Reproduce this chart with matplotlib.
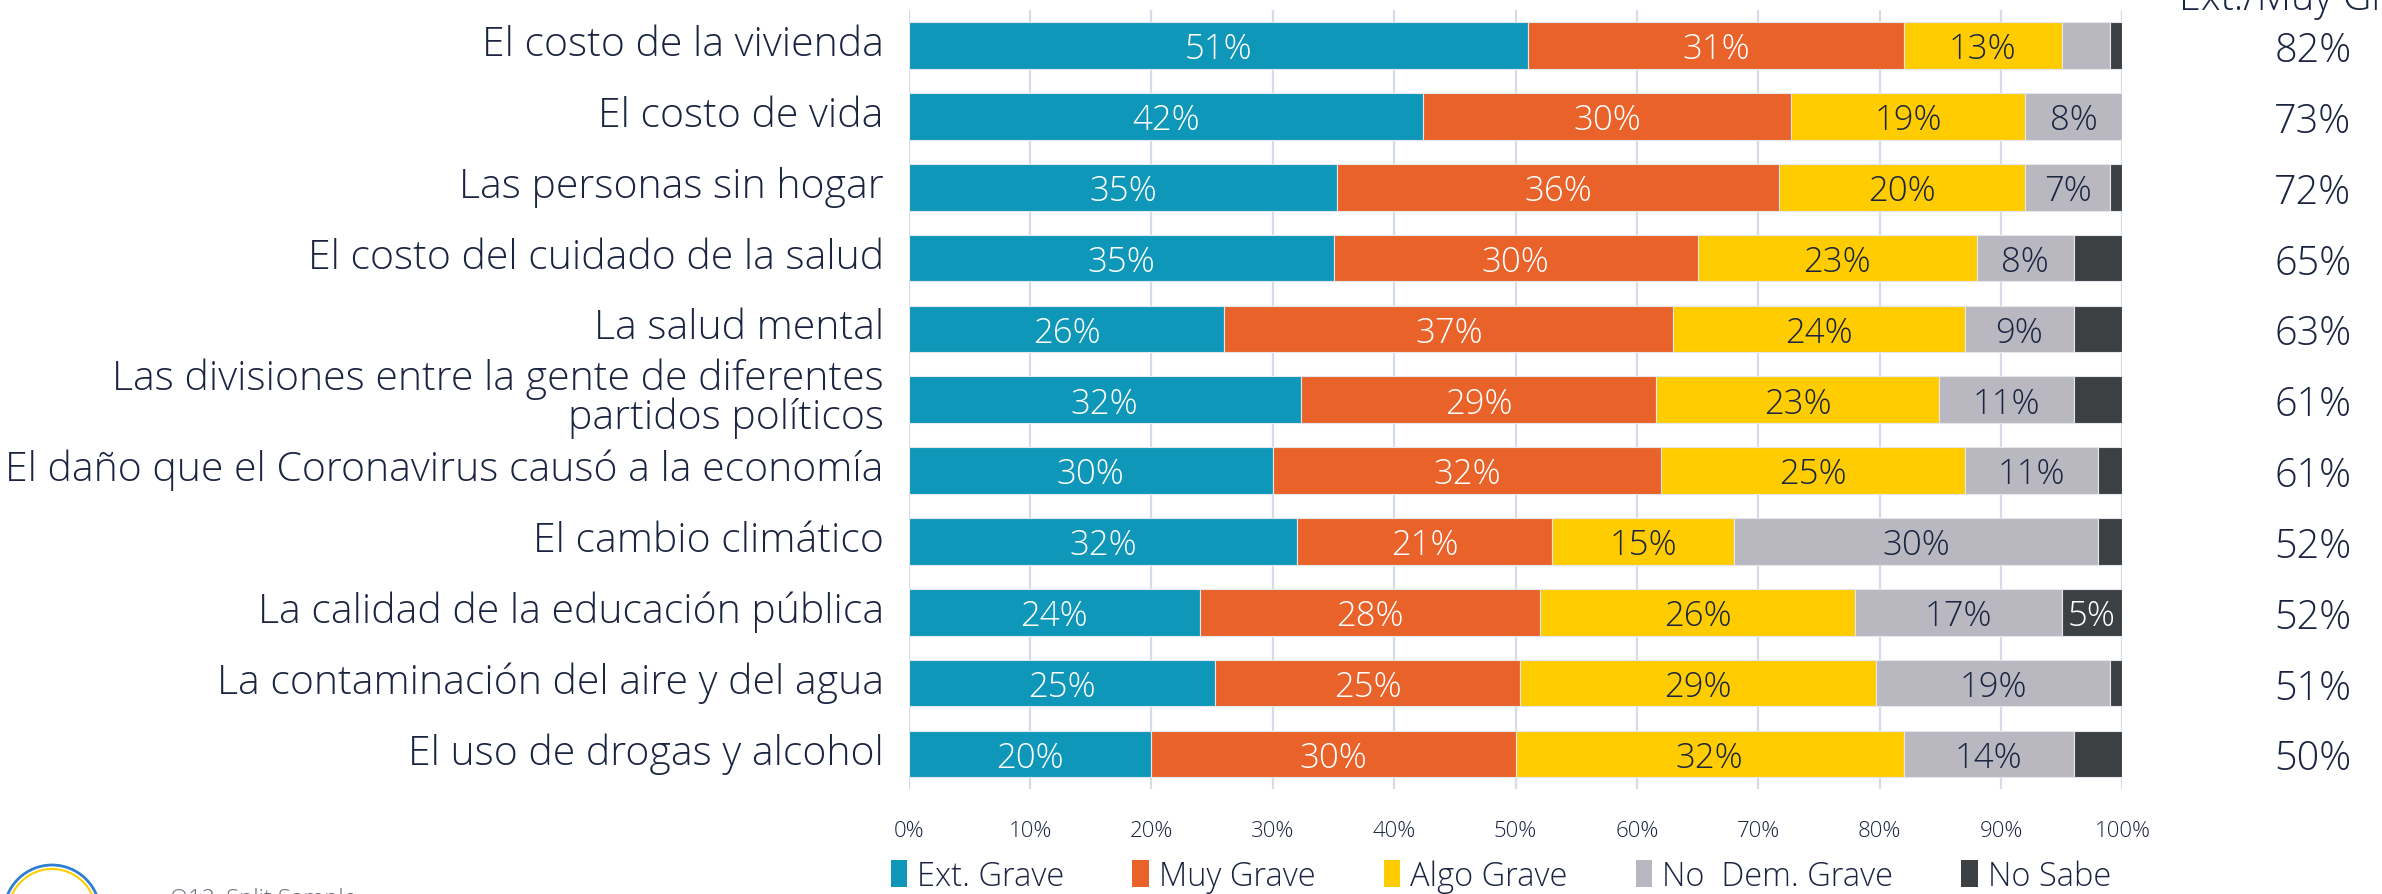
import matplotlib
matplotlib.use("Agg")
import matplotlib.pyplot as plt
import matplotlib.transforms as mtransforms
import numpy as np
from matplotlib.patches import Circle, Wedge, Patch

plt.rcParams['font.family'] = ['Open Sans', 'DejaVu Sans']

categories = [
    "El costo de la vivienda",
    "El costo de vida",
    "Las personas sin hogar",
    "El costo del cuidado de la salud",
    "La salud mental",
    "Las divisiones entre la gente de diferentes\npartidos políticos",
    "El daño que el Coronavirus causó a la economía",
    "El cambio climático",
    "La calidad de la educación pública",
    "La contaminación del aire y del agua",
    "El uso de drogas y alcohol",
]

ext_grave = [51, 42.4, 35.3, 35, 26, 32.3, 30, 32, 24, 25.2, 20]
muy_grave = [31, 30.3, 36.4, 30, 37, 29.3, 32, 21, 28, 25.2, 30]
algo_grave = [13, 19.3, 20.3, 23, 24, 23.3, 25, 15, 26, 29.3, 32]
no_dem_grave = [4, 8, 7, 8, 9, 11.1, 11, 30, 17, 19.3, 14]
no_sabe = [1, 0, 1, 4, 4, 4, 2, 2, 5, 1, 4]

net_labels = ["82%", "73%", "72%", "65%", "63%", "61%", "61%", "52%", "52%", "51%", "50%"]

series = ["Ext. Grave", "Muy Grave", "Algo Grave", "No  Dem. Grave", "No Sabe"]
colors = ["#0E97B8", "#E8622A", "#FFCC00", "#B9B8C1", "#3C4043"]
text_colors = ["white", "white", "#1B2541", "#1B2541", "white"]
min_label = [3, 3, 3, 6, 5]

navy = "#1B2541"
weight = "light"

fig = plt.figure(figsize=(23.82, 8.95), dpi=100)
ax = fig.add_axes([0.3815, 0.1169, 0.5095, 0.8707])

data = [ext_grave, muy_grave, algo_grave, no_dem_grave, no_sabe]
y = np.arange(len(categories))
left = np.zeros(len(categories))
for vals, col, tc, ml in zip(data, colors, text_colors, min_label):
    vals = np.array(vals, dtype=float)
    ax.barh(y, vals, left=left, height=0.66, color=col, edgecolor="#E4E7EE",
            linewidth=0.8, zorder=3)
    for yi, (l, v) in enumerate(zip(left, vals)):
        if v >= ml:
            ax.text(l + v / 2, yi + 0.05, f"{round(v)}%", ha="center", va="center",
                    color=tc, fontsize=25, fontweight=weight, zorder=4)
    left += vals

ax.set_xlim(0, 100)
ax.set_ylim(len(categories) - 0.5, -0.5)
ax.set_xticks(np.arange(0, 101, 10))
ax.set_xticklabels([f"{t}%" for t in range(0, 101, 10)], fontsize=16,
                   color=navy, fontweight=weight)
ax.set_yticks(y)
ax.set_yticklabels(categories, fontsize=29.5, color=navy, fontweight=weight,
                   linespacing=0.92)
ax.tick_params(axis="both", length=0)
ax.tick_params(axis="y", pad=18)
ax.tick_params(axis="x", pad=22)
shift = mtransforms.ScaledTranslation(0, 6 / 100, fig.dpi_scale_trans)
for lab in ax.get_yticklabels():
    lab.set_transform(lab.get_transform() + shift)
ax.grid(axis="x", color="#D5DCE8", linewidth=1.6, zorder=0)
for s in ax.spines.values():
    s.set_visible(False)

# net column
for yi, lab in enumerate(net_labels):
    ax.text(1.157, yi + 0.07, lab, transform=ax.get_yaxis_transform(), ha="center",
            va="center", fontsize=28.5, color=navy, fontweight=weight)
fig.text(0.971, 0.989, "Ext./Muy Grave", ha="center", va="baseline",
         fontsize=28.5, color=navy, fontweight=weight)

handles = [Patch(facecolor=c, edgecolor="none") for c in colors]
fig.legend(handles, series, loc="center", bbox_to_anchor=(0.630, 0.020), ncol=5,
           frameon=False, handlelength=0.5, handleheight=0.9,
           columnspacing=2.1, handletextpad=0.3, labelcolor=navy,
           prop={"size": 23.5, "weight": weight})

# logo (clipped at the bottom)
logo_ax = fig.add_axes([0, 0, 1, 1], facecolor="none")
logo_ax.set_xlim(0, 2382)
logo_ax.set_ylim(895, 0)
logo_ax.axis("off")
logo_ax.add_patch(Circle((52, 914), 48, fill=False, edgecolor="#2E7FD0", linewidth=2))
logo_ax.add_patch(Circle((52, 914), 44, fill=False, edgecolor="#FFCC00", linewidth=1.5))
logo_ax.add_patch(Wedge((44, 905), 14, 20, 110, facecolor="#5CC8A0", edgecolor="none"))
logo_ax.text(170, 888, "Q12, Split Sample", ha="left", va="top", fontsize=17,
             color="#6B6F7A", fontweight=weight)

fig.savefig("out.png", dpi=100)
